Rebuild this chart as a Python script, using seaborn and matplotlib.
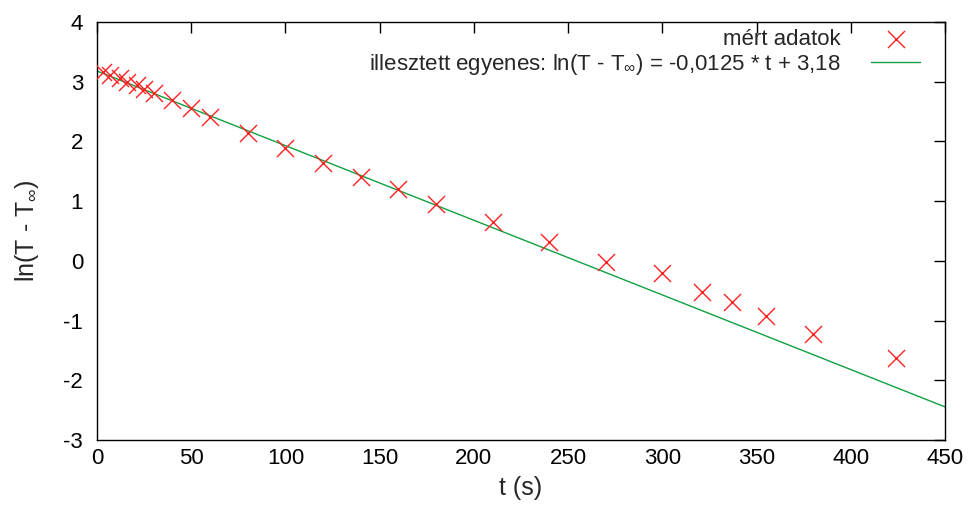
import matplotlib

matplotlib.use("Agg")
import matplotlib.pyplot as plt
import pandas as pd
import seaborn as sns

# measured data (t in s, ln(T - T_inf))
t_meas = [3, 7, 12, 16, 21, 25, 30, 40, 50, 60, 80, 100, 120, 140, 160, 180,
          210, 240, 270, 300, 321, 337, 355, 380, 424]
y_meas = [3.17, 3.12, 3.07, 3.0, 2.95, 2.88, 2.81, 2.7, 2.56, 2.41, 2.14, 1.89,
          1.64, 1.41, 1.2, 0.95, 0.65, 0.32, -0.02, -0.2, -0.52, -0.69, -0.92,
          -1.22, -1.62]

# fitted line end points
fit_t = [0, 450]
fit_y = [3.18, -2.445]

x_ticks = [0, 50, 100, 150, 200, 250, 300, 350, 400, 450]
y_ticks = [-3, -2, -1, 0, 1, 2, 3, 4]

sns.set_theme(style="white")
plt.rcParams["font.family"] = ["Liberation Sans", "DejaVu Sans"]
plt.rcParams["mathtext.fontset"] = "custom"
plt.rcParams["mathtext.rm"] = "Liberation Sans"
plt.rcParams["mathtext.it"] = "Liberation Sans"
plt.rcParams["mathtext.fallback"] = "cm"
plt.rcParams["axes.unicode_minus"] = False

meas = pd.DataFrame({"t": t_meas, "y": y_meas})
fit = pd.DataFrame({"t": fit_t, "y": fit_y})

fig = plt.figure(figsize=(9.69, 5.17), dpi=100)
ax = fig.add_axes([0.1001, 0.1489, 0.8751, 0.8085])

sns.scatterplot(data=meas, x="t", y="y", marker="x", s=150, color="#ff2020",
                linewidth=1.0, ax=ax, label="mért adatok", zorder=3)
sns.lineplot(data=fit, x="t", y="y", color="#10a040", linewidth=1.0, ax=ax,
             label=r"illesztett egyenes: ln(T - T$_{\infty}$) = -0,0125 * t + 3,18")

ax.set_xlim(0, 450)
ax.set_ylim(-3, 4)
ax.set_xticks(x_ticks)
ax.set_yticks(y_ticks)
ax.tick_params(direction="in", length=8, width=1, top=True, right=True,
               labelsize=16, colors="black")
ax.tick_params(axis="y", pad=10)
ax.tick_params(axis="x", pad=6)
for s in ax.spines.values():
    s.set_color("black")
    s.set_linewidth(1.0)
ax.set_xlabel("t (s)", fontsize=18, labelpad=5)
ax.set_ylabel(r"ln(T - T$_{\infty}$)", fontsize=18, labelpad=16)

leg = ax.legend(loc="upper right", bbox_to_anchor=(1 - 18 / 848, 1.0),
                frameon=False, markerfirst=False, fontsize=16,
                handlelength=2.2, handletextpad=1.4, borderaxespad=0,
                borderpad=0.3, labelspacing=0.1)
for txt in leg.get_texts():
    txt.set_ha("right")

fig.savefig("out.png", dpi=100)
